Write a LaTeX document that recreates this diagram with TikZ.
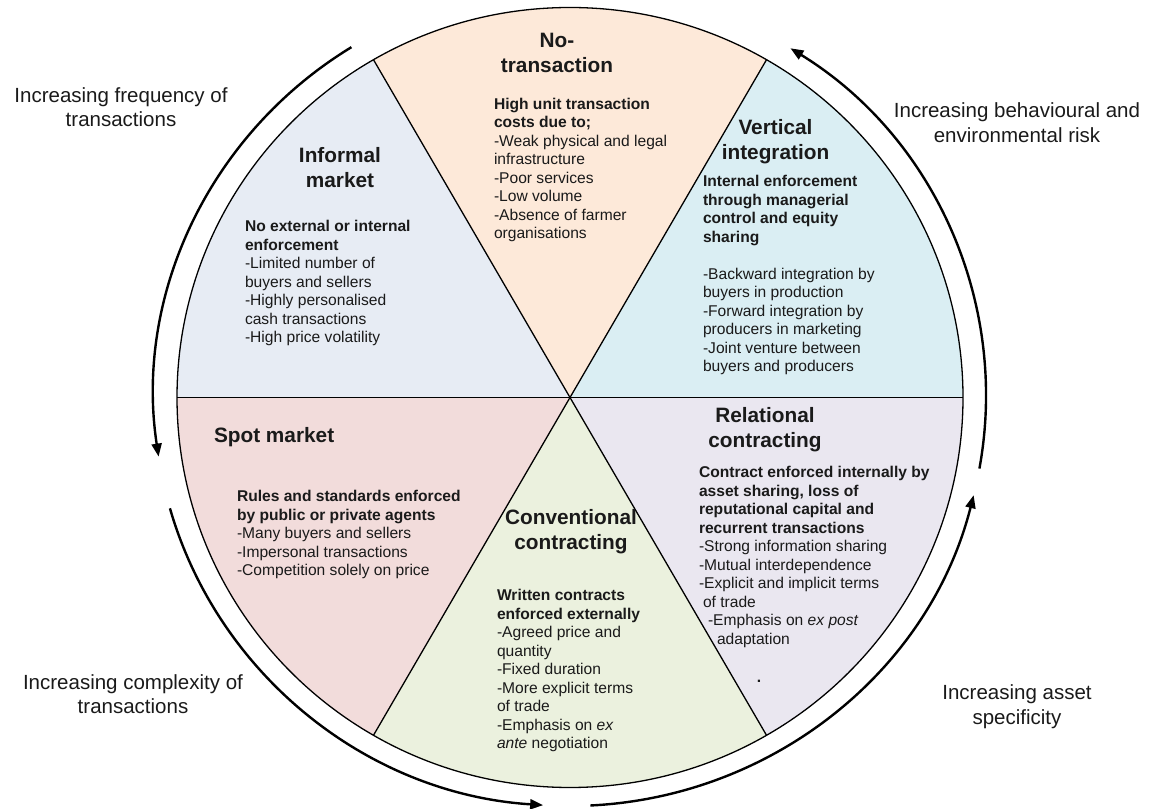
\documentclass[tikz,border=0pt]{standalone}
\usepackage{fontspec}
\setmainfont{Liberation Sans}
\usetikzlibrary{arrows.meta}
\definecolor{cNo}{HTML}{FDE9D9}
\definecolor{cInf}{HTML}{E7ECF4}
\definecolor{cVert}{HTML}{DAEEF3}
\definecolor{cRel}{HTML}{EAE7F0}
\definecolor{cSpot}{HTML}{F2DCDB}
\definecolor{cConv}{HTML}{EBF1DE}
\definecolor{ink}{HTML}{1A1A1A}
\newcommand{\ttlfont}{\fontsize{20.8}{24.5}\selectfont\bfseries}
\newcommand{\bdyfont}{\fontsize{15.6}{18.5}\selectfont}
\newcommand{\sdfont}{\fontsize{20.5}{23.5}\selectfont}
\newcommand{\ctext}[1]{\parbox[t]{320pt}{\centering #1}}
\newcommand{\ltext}[1]{\parbox[t]{320pt}{\raggedright #1}}
\tikzset{
  lbl/.style={inner sep=0pt, outer sep=0pt, text=ink},
  ttl/.style={lbl, anchor=base},
  bdy/.style={lbl, anchor=base west},
  pieline/.style={draw=black, line width=1.3pt},
  outerarc/.style={draw=black, line width=2.4pt, -{Triangle[length=13pt,width=10pt]}},
}
\begin{document}
\begin{tikzpicture}[x=1pt,y=1pt]
\useasboundingbox (0,0) rectangle (1160,809);
\coordinate (C) at (570,411.5);
\coordinate (O) at (570,413);
% sectors
\fill[cVert] (C) -- ++(0:393pt and 390pt) arc[start angle=0, end angle=60, x radius=393pt, y radius=390pt] -- cycle;
\fill[cNo] (C) -- ++(60:393pt and 390pt) arc[start angle=60, end angle=120, x radius=393pt, y radius=390pt] -- cycle;
\fill[cInf] (C) -- ++(120:393pt and 390pt) arc[start angle=120, end angle=180, x radius=393pt, y radius=390pt] -- cycle;
\fill[cSpot] (C) -- ++(180:393pt and 390pt) arc[start angle=180, end angle=240, x radius=393pt, y radius=390pt] -- cycle;
\fill[cConv] (C) -- ++(240:393pt and 390pt) arc[start angle=240, end angle=300, x radius=393pt, y radius=390pt] -- cycle;
\fill[cRel] (C) -- ++(300:393pt and 390pt) arc[start angle=300, end angle=360, x radius=393pt, y radius=390pt] -- cycle;
% outline and dividers
\draw[pieline] (C) ellipse[x radius=393pt, y radius=390pt];
\foreach \a in {0,60,120,180,240,300} {\draw[pieline] (C) -- ++(\a:393pt and 390pt);}
% outer arrows
\draw[outerarc] (O) ++(121.7:416pt and 410pt) arc[start angle=121.7, end angle=188.5, x radius=416pt, y radius=410pt];
\draw[outerarc] (O) ++(195.9:416pt and 410pt) arc[start angle=195.9, end angle=266.3, x radius=416pt, y radius=410pt];
\draw[outerarc] (O) ++(272.8:416pt and 410pt) arc[start angle=272.8, end angle=346, x radius=416pt, y radius=410pt];
\draw[outerarc] (O) ++(-10.2:416pt and 410pt) arc[start angle=-10.2, end angle=58, x radius=416pt, y radius=410pt];
% titles
\node[ttl] (tNo) at (557,761) {\ctext{\ttlfont No-\\transaction}};
\node[ttl] (tInf) at (340,646) {\ctext{\ttlfont Informal\\market}};
\node[ttl] (tVert) at (775.5,674) {\ctext{\ttlfont Vertical\\integration}};
\node[ttl] (tRel) at (765,386) {\ctext{\ttlfont Relational\\contracting}};
\node[lbl, anchor=base west] (tSpot) at (214,366) {\ttlfont Spot market};
\node[ttl] (tConv) at (571,284) {\ctext{\ttlfont Conventional\\contracting}};
% bodies
\node[bdy] (bNo) at (494,699.5) {\ltext{\bdyfont\textbf{High unit transaction}\\\textbf{costs due to;}\\-Weak physical and legal\\infrastructure\\-Poor services\\-Low volume\\-Absence of farmer\\organisations}};
\node[bdy] (bInf) at (245,577) {\ltext{\bdyfont\textbf{No external or internal}\\\textbf{enforcement}\\-Limited number of\\buyers and sellers\\-Highly personalised\\cash transactions\\-High price volatility}};
\node[bdy] (bVert) at (703,622) {\ltext{\bdyfont\textbf{Internal enforcement}\\\textbf{through managerial}\\\textbf{control and equity}\\\textbf{sharing}\\[18.5pt]-Backward integration by\\buyers in production\\-Forward integration by\\producers in marketing\\-Joint venture between\\buyers and producers}};
\node[bdy] (bRel) at (699,331) {\ltext{\bdyfont\textbf{Contract enforced internally by}\\\textbf{asset sharing, loss of}\\\textbf{reputational capital and}\\\textbf{recurrent transactions}\\-Strong information sharing\\-Mutual interdependence\\-Explicit and implicit terms\\\hspace*{4pt}of trade\\\hspace*{9pt}-Emphasis on \textit{ex post}\\\hspace*{18pt}adaptation}};
\node[lbl, anchor=base] (dot) at (759,126.5) {\bdyfont\textbf{.}};
\node[bdy] (bSpot) at (237,307) {\ltext{\bdyfont\textbf{Rules and standards enforced}\\\textbf{by public or private agents}\\-Many buyers and sellers\\-Impersonal transactions\\-Competition solely on price}};
\node[bdy] (bConv) at (497,208) {\ltext{\bdyfont\textbf{Written contracts}\\\textbf{enforced externally}\\-Agreed price and\\quantity\\-Fixed duration\\-More explicit terms\\of trade\\-Emphasis on \textit{ex}\\\textit{ante} negotiation}};
% side labels
\node[ttl] (sFreq) at (121,706) {\ctext{\sdfont Increasing frequency of\\transactions}};
\node[ttl] (sRisk) at (1017,691) {\ctext{\fontsize{20.5}{24.5}\selectfont Increasing behavioural and\\environmental risk}};
\node[ttl] (sComp) at (133,119) {\ctext{\sdfont Increasing complexity of\\transactions}};
\node[ttl] (sAsset) at (1017,109) {\ctext{\fontsize{20.5}{25}\selectfont Increasing asset\\specificity}};
\end{tikzpicture}
\end{document}
